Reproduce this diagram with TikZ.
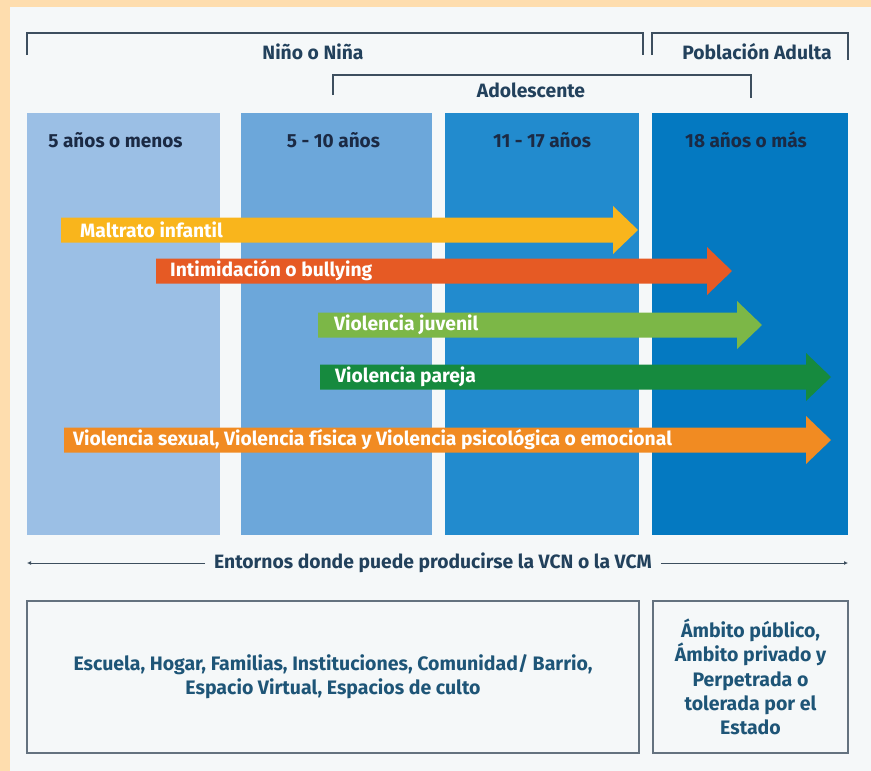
\documentclass[tikz,border=0pt]{standalone}
\usepackage{fontspec}
\setmainfont{Fira Sans}
\usetikzlibrary{positioning,arrows.meta}
\definecolor{peach}{HTML}{FEDDAE}
\definecolor{panel}{HTML}{F5F8F9}
\definecolor{colA}{HTML}{9BBFE5}
\definecolor{colB}{HTML}{6CA7DA}
\definecolor{colC}{HTML}{228BCE}
\definecolor{colD}{HTML}{0479C1}
\definecolor{navy}{HTML}{1B2A44}
\definecolor{slate}{HTML}{22415C}
\definecolor{teal}{HTML}{1E5577}
\definecolor{brkline}{HTML}{3D4F5F}
\definecolor{yel}{HTML}{F9B51C}
\definecolor{redor}{HTML}{E65A24}
\definecolor{lgreen}{HTML}{7CB747}
\definecolor{dgreen}{HTML}{168A3E}
\definecolor{orng}{HTML}{F18B22}
\tikzset{colbox/.style={rectangle, minimum height=422pt, inner sep=0pt},
hdr/.style={font=\bfseries\fontsize{19}{22}\selectfont, text=navy, inner sep=0pt},
toplbl/.style={font=\bfseries\fontsize{19.3}{22}\selectfont, text=slate, inner sep=0pt},
brk/.style={draw=brkline, line width=1.2pt},
bandlbl/.style={font=\bfseries\fontsize{19.3}{22}\selectfont, text=white, anchor=west, inner sep=0pt},
envbox/.style={draw=brkline!80, line width=1.3pt, fill=panel, minimum height=152pt, inner sep=4pt,
  font=\bfseries\fontsize{19.5}{24.2}\selectfont, text=teal, align=center}
}

\begin{document}
\begin{tikzpicture}[x=1pt,y=-1pt]
	\useasboundingbox (0,0) rectangle (871,771);
	\fill[peach] (0,0) rectangle (871,771);
	\fill[panel] (10,7) rectangle (871,771);

	% age groups
	\node[colbox, fill=colA, minimum width=193pt] (c1) at (123.5,324) {};
	\node[colbox, fill=colB, minimum width=191pt] (c2) at (336.5,324) {};
	\node[colbox, fill=colC, minimum width=194pt] (c3) at (542,324) {};
	\node[colbox, fill=colD, minimum width=196pt] (c4) at (750,324) {};
	\node[hdr] (h1) at ([xshift=-8pt,yshift=-27pt]c1.north) {5 años o menos};
	\node[hdr] (h2) at ([xshift=-3pt,yshift=-27pt]c2.north) {5 - 10 años};
	\node[hdr] (h3) at ([yshift=-27pt]c3.north) {11 - 17 años};
	\node[hdr] (h4) at ([xshift=-4pt,yshift=-27pt]c4.north) {18 años o más};

	% brackets
	\draw[brk] (27,55) -- (27,33) -- (643,33) -- (643,55);
	\draw[brk] (652,55) -- (652,33) -- (848,33) -- (848,60);
	\draw[brk] (333,95) -- (333,75) -- (751,75) -- (751,98);
	\node[toplbl] (nino) at (313,52) {Niño o Niña};
	\node[toplbl] (adulta) at (757,52) {Población Adulta};
	\node[toplbl] (adol) at (531,90) {Adolescente};

	% violence bands
	\foreach \clr/\xa/\xb/\yc/\tx/\lbl [count=\i] in
		{yel/61/638/230/80/{Maltrato infantil},
		 redor/156/732/271/170/{Intimidación o bullying},
		 lgreen/318/762/325/334/{Violencia juvenil},
		 dgreen/320/831/377/335/{Violencia pareja},
		 orng/64/831/440/73/{Violencia sexual, Violencia física y Violencia psicológica o emocional}}
	{
		\fill[\clr] (\xa,\yc-12.5) -- (\xb-25,\yc-12.5) -- (\xb-25,\yc-24) -- (\xb,\yc)
			-- (\xb-25,\yc+24) -- (\xb-25,\yc+12.5) -- (\xa,\yc+12.5) -- cycle;
		\node[bandlbl] (v\i) at (\tx,\yc) {\lbl};
	}

	% settings
	\node[toplbl, inner xsep=9pt] (env) at (433,563) {Entornos donde puede producirse la VCN o la VCM};
	\coordinate (envL) at (27,563);
	\coordinate (envR) at (848,563);
	\draw[brk, line width=1pt, -{Latex[length=4pt,width=4pt]}] (env.west) -- (envL);
	\draw[brk, line width=1pt, -{Latex[length=4pt,width=4pt]}] (env.east) -- (envR);

	\node[envbox, minimum width=612pt] (b1) at (333,677)
		{Escuela, Hogar, Familias, Instituciones, Comunidad/ Barrio,\\ Espacio Virtual, Espacios de culto};
	\node[envbox, minimum width=195pt] (b2) at (750.5,677)
		{Ámbito público,\\ Ámbito privado y\\ Perpetrada o\\ tolerada por el\\ Estado};
\end{tikzpicture}
\end{document}
